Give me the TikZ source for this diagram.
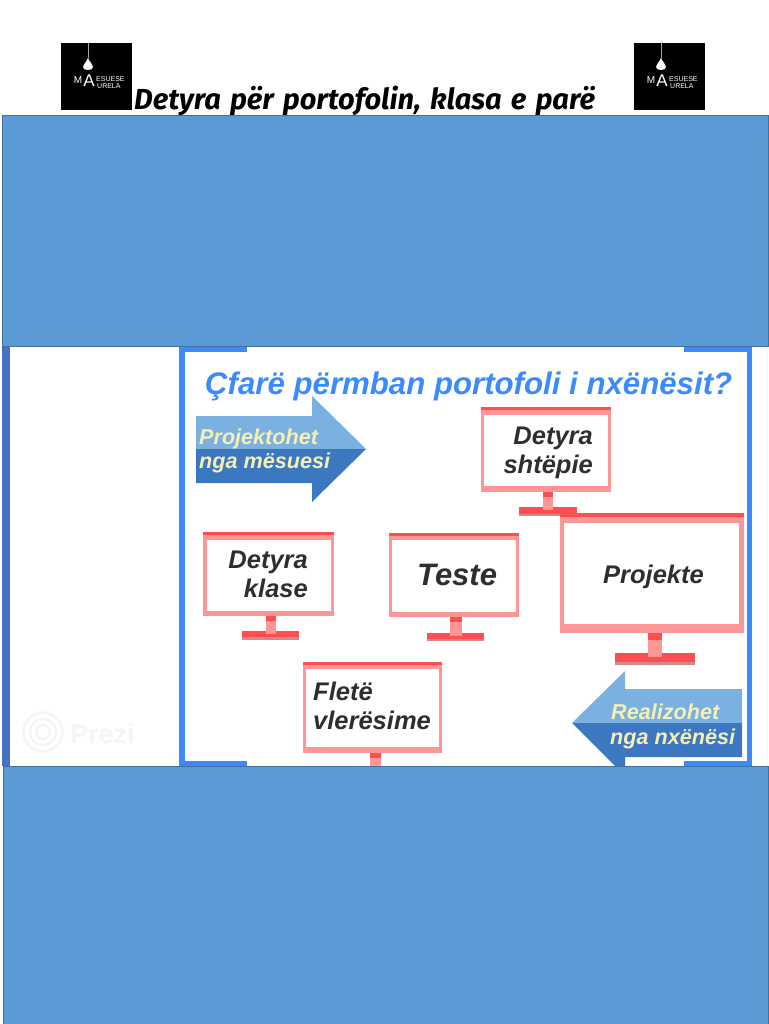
\documentclass[tikz,border=0pt]{standalone}
\usepackage{fontspec}
\setmainfont{Liberation Sans}
\newfontfamily\titlefont[WordSpace=1.4]{Fira Sans}
\usetikzlibrary{positioning}
\definecolor{pageblue}{HTML}{5B9BD5}
\definecolor{pageedge}{HTML}{41719C}
\definecolor{stripblue}{HTML}{4472C4}
\definecolor{frameblue}{HTML}{3B8BFF}
\definecolor{arrowlight}{HTML}{7AB1E0}
\definecolor{arrowdark}{HTML}{3B78BF}
\definecolor{arrowtext}{HTML}{F5EFB5}
\definecolor{monitorpink}{HTML}{FF9696}
\definecolor{monitorred}{HTML}{FF4D50}
\definecolor{monitorshade}{HTML}{D08A8A}
\definecolor{monitortext}{HTML}{2E2E2E}
\begin{document}
\begin{tikzpicture}[
        x=1pt, y=-1pt,
        panel/.style={fill=pageblue, draw=pageedge, line width=0.8pt},
        frameline/.style={fill=frameblue},
        pinkpart/.style={fill=monitorpink},
        redpart/.style={fill=monitorred},
        shadepart/.style={fill=monitorshade},
        screentext/.style={
            font=\bfseries\itshape\fontsize{25.5}{28.5}\selectfont,
            text=monitortext,
            inner sep=0pt
        },
        arrowlabel/.style={
            font=\bfseries\itshape\fontsize{21.6}{24}\selectfont,
            text=arrowtext,
            inner sep=0pt,
            anchor=base west
        },
        logotext/.style={
            text=white,
            inner sep=0pt,
            font=\fontsize{7}{8}\selectfont
        },
        logo/.pic={
            \fill[black] (0,0) rectangle (71,67);
            \draw[gray!70, line width=0.4pt] (27,0) -- (27,15);
            \fill[white] (27,15) .. controls (25,20) and (22,21) .. (22,24)
                .. controls (22,28) and (32,28) .. (32,24)
                .. controls (32,21) and (29,20) .. (27,15) -- cycle;
            \node[logotext, font=\fontsize{10}{10}\selectfont] (-big) at (17,37) {M};
            \node[logotext, font=\fontsize{17}{17}\selectfont] (-tall) at (28,38) {A};
            \node[logotext, anchor=west] (-top) at (35,36.5) {ESUESE};
            \node[logotext, anchor=west] (-bottom) at (36,43.5) {URELA};
        }
    ]

    \useasboundingbox (0,0) rectangle (768,1024);
    \fill[white] (0,0) rectangle (768,1024);

    % header
    \pic (logoleft) at (61,43) {logo};
    \pic (logoright) at (634,43) {logo};
    \node[anchor=base west, inner sep=0pt, font=\titlefont\bfseries\itshape\fontsize{29}{30}\selectfont] (title) at (134,110) {Detyra për portofolin, klasa e parë};

    % slide
    \fill[stripblue] (2,346) rectangle (10,766);
    \fill[black!4] (767,346) rectangle (768,766);

    % watermark
    \draw[black!4, line width=2.5pt] (43,732) circle (19.5);
    \draw[black!4, line width=2.5pt] (43,732) circle (13);
    \draw[black!4, line width=2.5pt] (43,732) circle (7);
    \node[inner sep=0pt, text=black!4, font=\bfseries\fontsize{27}{30}\selectfont, anchor=base west] (prezi) at (70,743) {Prezi};

    % frame
    \fill[frameline] (179,346) rectangle (247,352);
    \fill[frameline] (179,346) rectangle (185,766);
    \fill[frameline] (179,761) rectangle (247,766);
    \fill[frameline] (684,346) rectangle (752,352);
    \fill[frameline] (747,346) rectangle (752,766);
    \fill[frameline] (684,761) rectangle (752,766);

    \node[anchor=base west, inner sep=0pt, text=frameblue, font=\bfseries\itshape\fontsize{31.2}{32}\selectfont] (heading) at (205,394) {Çfarë përmban portofoli i nxënësit?};

    % arrows
    \fill[arrowlight] (196,416) -- (312,416) -- (312,396) -- (366,449) -- (196,449) -- cycle;
    \fill[arrowdark] (196,449) -- (366,449) -- (312,502) -- (312,483) -- (196,483) -- cycle;
    \node[arrowlabel] (projektohet) at (199,444) {Projektohet};
    \node[arrowlabel] (ngamesuesi) at (199,468) {nga mësuesi};

    \fill[arrowlight] (742,689) -- (625,689) -- (625,671) -- (572,723) -- (742,723) -- cycle;
    \fill[arrowdark] (742,723) -- (572,723) -- (625,776) -- (625,757) -- (742,757) -- cycle;
    \node[arrowlabel] (realizohet) at (611,719) {Realizohet};
    \node[arrowlabel] (nganxenesi) at (610,744) {nga nxënësi};

    % detyra shtepie
    \fill[shadepart] (519,507) rectangle (577,516);
    \fill[redpart] (519,507) rectangle (577,514);
    \fill[pinkpart] (543,492) rectangle (553,510);
    \fill[redpart] (543,492) rectangle (553,497);
    \fill[pinkpart] (481,407) rectangle (611,492);
    \fill[redpart] (481,407) rectangle (611,410);
    \fill[white] (484,415) rectangle (608,486);
    \node[screentext, align=right, anchor=north east] (shtepie) at (593,427) {Detyra\\shtëpie};

    % detyra klase
    \fill[shadepart] (242,631) rectangle (299,640);
    \fill[redpart] (242,631) rectangle (299,637);
    \fill[pinkpart] (266,616) rectangle (276,634);
    \fill[redpart] (266,616) rectangle (276,621);
    \fill[pinkpart] (203,532) rectangle (334,616);
    \fill[redpart] (203,532) rectangle (334,535);
    \fill[white] (207,540) rectangle (331,611);
    \node[screentext, align=right, anchor=north east] (klase) at (308,551) {Detyra\\klase};

    % teste
    \fill[shadepart] (427,633) rectangle (484,641);
    \fill[redpart] (427,633) rectangle (484,639);
    \fill[pinkpart] (450,617) rectangle (462,636);
    \fill[redpart] (450,617) rectangle (462,622);
    \fill[pinkpart] (389,533) rectangle (519,617);
    \fill[redpart] (389,533) rectangle (519,536);
    \fill[white] (392,540) rectangle (516,612);
    \node[screentext, font=\bfseries\itshape\fontsize{31}{32}\selectfont, anchor=base west] (teste) at (417,585) {Teste};

    % projekte
    \fill[shadepart] (615,653) rectangle (695,665);
    \fill[redpart] (615,653) rectangle (695,662);
    \fill[pinkpart] (648,633) rectangle (662,657);
    \fill[redpart] (648,633) rectangle (662,640);
    \fill[pinkpart] (560,513) rectangle (744,633);
    \fill[redpart] (560,513) rectangle (744,517);
    \fill[white] (564,523) rectangle (739,624);
    \node[screentext, anchor=base west] (projekte) at (603,583) {Projekte};

    % flete vleresime
    \fill[pinkpart] (370,753) rectangle (381,767);
    \fill[redpart] (370,753) rectangle (381,758);
    \fill[pinkpart] (303,662) rectangle (442,753);
    \fill[redpart] (303,662) rectangle (442,665);
    \fill[white] (306,669) rectangle (439,747);
    \node[screentext, align=left, anchor=north west] (vleresime) at (313,682) {Fletë\\vlerësime};

    % bands
    \path[panel] (2,115) rectangle (768,346);
    \path[panel] (3,766) rectangle (768,1024);
\end{tikzpicture}
\end{document}
